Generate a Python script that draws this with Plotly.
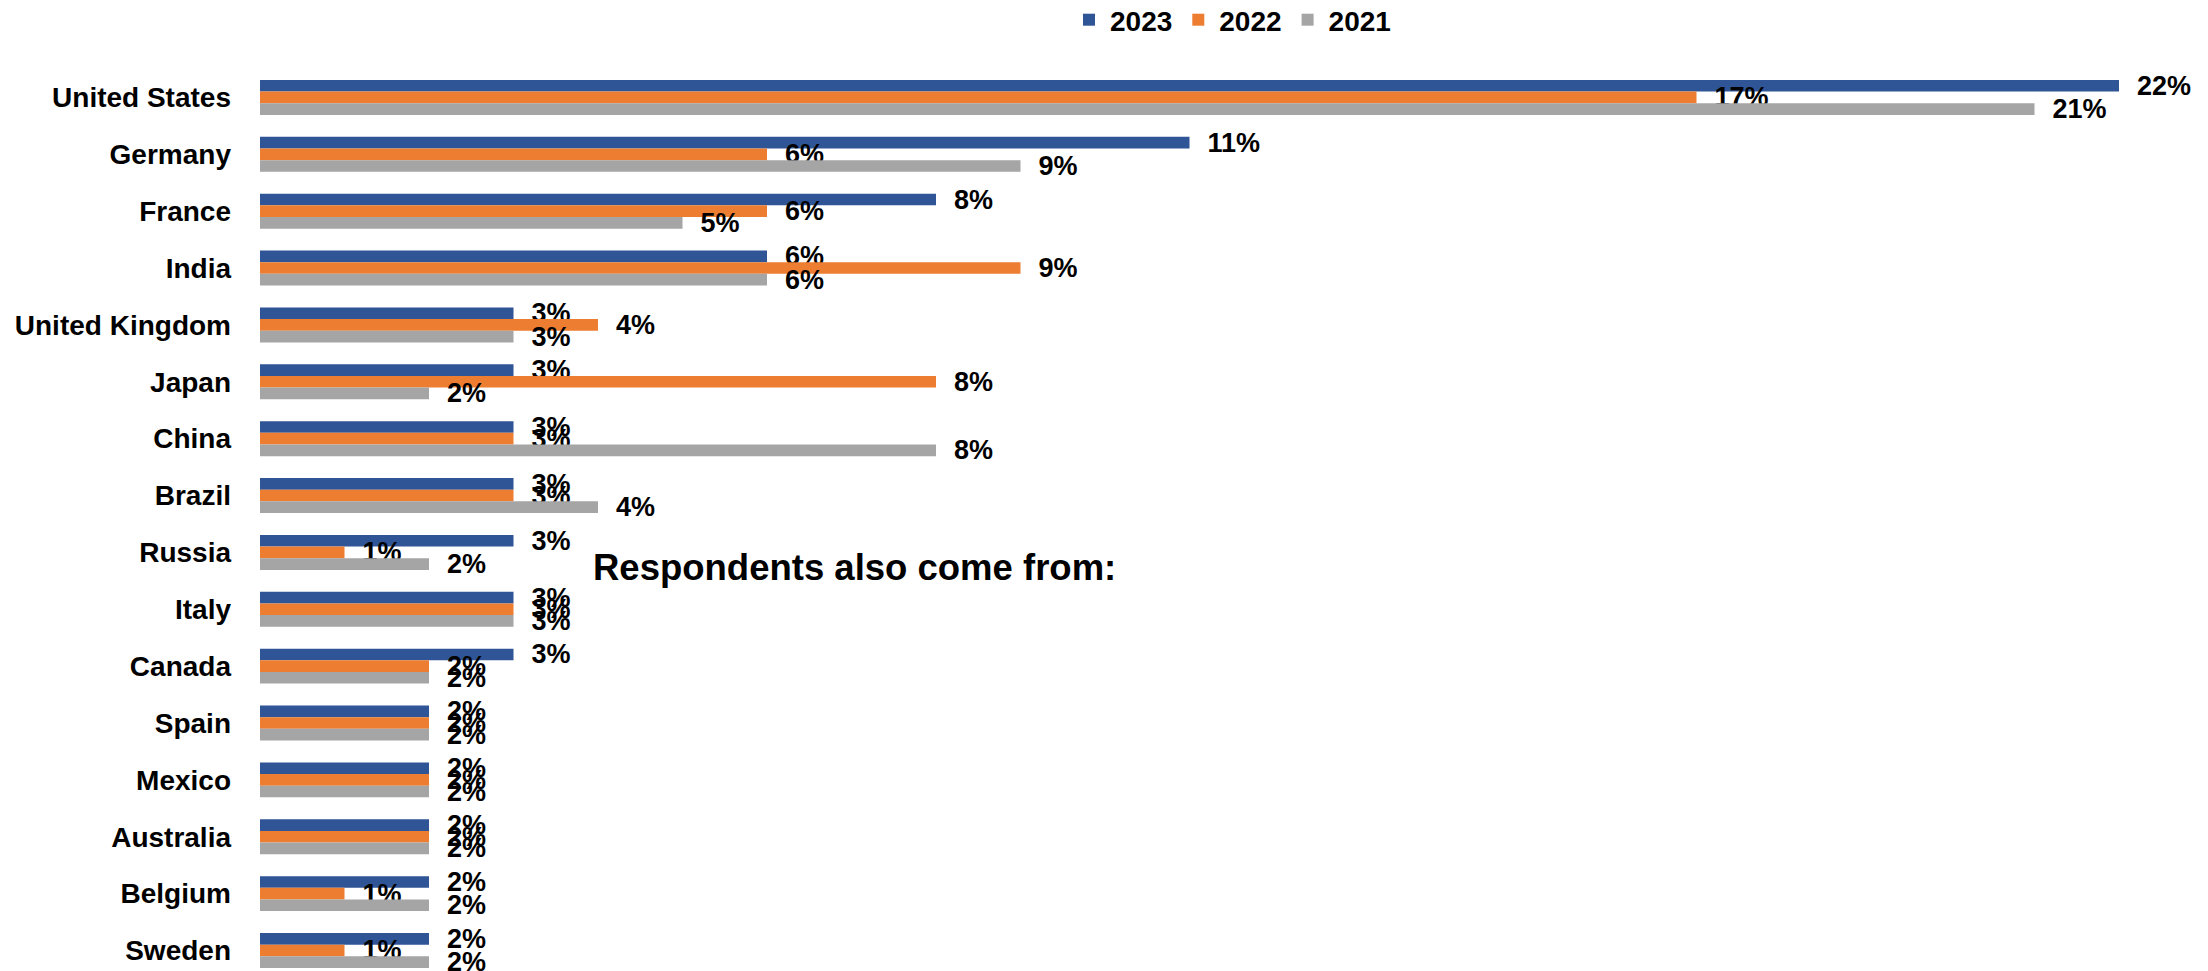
import plotly.graph_objects as go

countries = ["United States", "Germany", "France", "India", "United Kingdom", "Japan",
             "China", "Brazil", "Russia", "Italy", "Canada", "Spain", "Mexico",
             "Australia", "Belgium", "Sweden"]
years = ["2023", "2022", "2021"]
v2023 = [22, 11, 8, 6, 3, 3, 3, 3, 3, 3, 3, 2, 2, 2, 2, 2]
v2022 = [17, 6, 6, 9, 4, 8, 3, 3, 1, 3, 2, 2, 2, 2, 1, 1]
v2021 = [21, 9, 5, 6, 3, 2, 8, 4, 2, 3, 2, 2, 2, 2, 2, 2]
colors = ["#2F5597", "#ED7D31", "#A5A5A5"]
note = "Respondents also come from:"

# page body has an 8px default margin; figure sized to fill the rest of the window
OFF = 8
W, H = 2208 - OFF, 971 - OFF
L, T, B, R = 260 - OFF, 69 - OFF, 0, 0
plot_w = W - L - R
plot_h = H - T - B
px_per_pct = 84.5
cat_px = 56.87

fig = go.Figure()
for name, vals, col in zip(years, [v2023, v2022, v2021], colors):
    fig.add_trace(go.Bar(
        name=name, y=countries, x=vals, orientation="h",
        marker=dict(color=col, line=dict(width=0)),
        text=["\u00a0\u00a0" + f"{v}%" for v in vals],
        textposition="outside", constraintext="none", cliponaxis=False,
        textfont=dict(family="Liberation Sans", size=27, color="#000000", weight="bold"),
        hoverinfo="skip",
    ))

fig.update_layout(
    width=W, height=H,
    margin=dict(l=L, r=R, t=T, b=B, pad=0, autoexpand=False),
    barmode="group", bargap=0.385, bargroupgap=0,
    plot_bgcolor="white", paper_bgcolor="white",
    font=dict(family="Liberation Sans", color="#000000"),
    showlegend=True,
    legend=dict(orientation="h", x=(1232 - OFF - L) / plot_w, xanchor="center",
                y=1 + (T + 13) / plot_h, yanchor="top", itemwidth=32,
                font=dict(family="Liberation Sans", size=28, color="#000000", weight="bold"),
                bgcolor="rgba(0,0,0,0)", traceorder="normal"),
    xaxis=dict(range=[0, plot_w / px_per_pct], showgrid=False, zeroline=False,
               showticklabels=False, showline=False, ticks=""),
    yaxis=dict(type="category", categoryorder="array", categoryarray=countries,
               range=[-0.5 + plot_h / cat_px, -0.5], showgrid=False, zeroline=False,
               showline=False, ticks="", ticklabelstandoff=28,
               tickfont=dict(family="Liberation Sans", size=28, color="#000000", weight="bold")),
    annotations=[dict(text=note, xref="paper", yref="paper",
                      x=(591 - OFF - L) / plot_w, y=1 - (567 - OFF - T) / plot_h,
                      xanchor="left", yanchor="middle", showarrow=False,
                      font=dict(family="Liberation Sans", size=36.5, color="#000000", weight="bold"))],
)

fig.write_html("out.html")
